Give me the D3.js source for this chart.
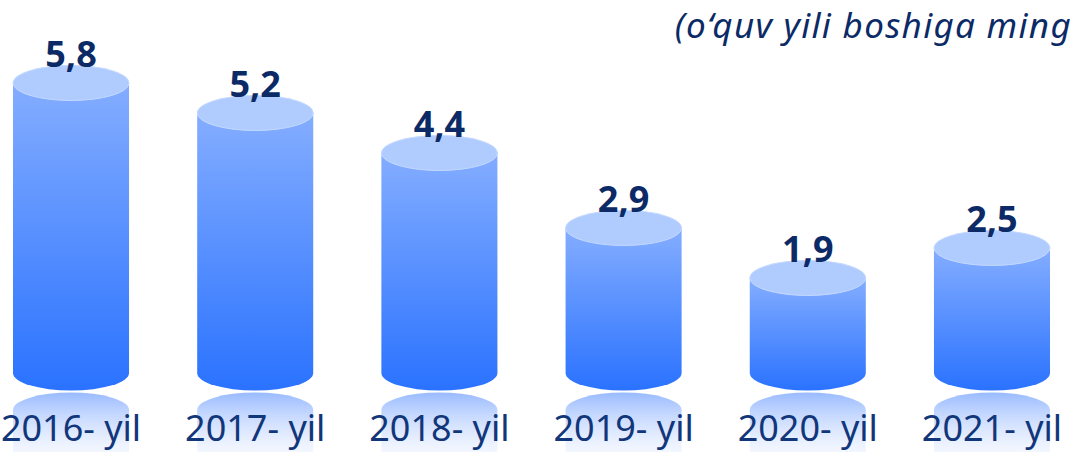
<!DOCTYPE html>
<html>
<head>
<meta charset="utf-8">
<script src="https://cdnjs.cloudflare.com/ajax/libs/d3/7.8.5/d3.min.js"></script>
<style>
  html, body { margin: 0; padding: 0; background: #fff; }
  svg { display: block; }
</style>
</head>
<body>
<svg id="chart" width="1078" height="452"></svg>
<script>
// chart data
var years = ["2016- yil", "2017- yil", "2018- yil", "2019- yil", "2020- yil", "2021- yil"];
var values = [5.8, 5.2, 4.4, 2.9, 1.9, 2.5];
var labels = ["5,8", "5,2", "4,4", "2,9", "1,9", "2,5"];
var unitTitle = "(o\u2018quv yili boshiga ming";

var svg = d3.select("#chart");
var W = +svg.attr("width"), H = +svg.attr("height");

var navy = "#0b2a66";
var baseY = 373;   // centre of the bottom ellipse
var ry = 17.5;

var x = d3.scaleBand()
    .domain(years)
    .range([13, 1050])
    .paddingInner(0.37)
    .paddingOuter(0);

var y = d3.scaleLinear()
    .domain([0, 6])
    .range([baseY, baseY - 300]);

var rx = x.bandwidth() / 2;

// gradients
var defs = svg.append("defs");

var body = defs.append("linearGradient")
    .attr("id", "body-grad")
    .attr("x1", 0).attr("y1", 0).attr("x2", 0).attr("y2", 1);
body.append("stop").attr("offset", "0%").attr("stop-color", "#84adff");
body.append("stop").attr("offset", "100%").attr("stop-color", "#2a72ff");

var refl = defs.append("linearGradient")
    .attr("id", "refl-grad")
    .attr("gradientUnits", "userSpaceOnUse")
    .attr("x1", 0).attr("y1", baseY + ry).attr("x2", 0).attr("y2", H + 6);
refl.append("stop").attr("offset", "0%").attr("stop-color", "#8fb4ff").attr("stop-opacity", 0.95);
refl.append("stop").attr("offset", "100%").attr("stop-color", "#dfe9ff").attr("stop-opacity", 0.25);

var data = years.map(function (d, i) {
    return { year: d, value: values[i], label: labels[i] };
});

/**
 * Outline of a cylinder body: straight sides, bottom half-ellipse.
 */
function cylinderPath(cx, top) {
    return "M" + (cx - rx) + "," + top +
        "L" + (cx - rx) + "," + baseY +
        "A" + rx + "," + ry + " 0 0 0 " + (cx + rx) + "," + baseY +
        "L" + (cx + rx) + "," + top + "Z";
}

/**
 * Mirrored bottom of a cylinder, below the floor line.
 */
function reflectionPath(cx) {
    var top = baseY + ry + 2;
    return "M" + (cx - rx) + "," + (top + ry) +
        "A" + rx + "," + ry + " 0 0 1 " + (cx + rx) + "," + (top + ry) +
        "L" + (cx + rx) + "," + H +
        "L" + (cx - rx) + "," + H + "Z";
}

var bars = svg.append("g").attr("class", "cylinders")
    .selectAll("g")
    .data(data)
    .join("g");

bars.append("path")
    .attr("class", "reflection")
    .attr("d", function (d) { return reflectionPath(x(d.year) + rx); })
    .attr("fill", "url(#refl-grad)");

bars.append("path")
    .attr("class", "body")
    .attr("d", function (d) { return cylinderPath(x(d.year) + rx, y(d.value)); })
    .attr("fill", "url(#body-grad)");

bars.append("ellipse")
    .attr("class", "cap")
    .attr("cx", function (d) { return x(d.year) + rx; })
    .attr("cy", function (d) { return y(d.value); })
    .attr("rx", rx)
    .attr("ry", ry)
    .attr("fill", "#b0ccff")
    .attr("stroke", "#c4d9ff")
    .attr("stroke-width", 1);

// value labels
bars.append("text")
    .attr("x", function (d) { return x(d.year) + rx; })
    .attr("y", function (d) { return y(d.value) - ry + 1; })
    .attr("text-anchor", "middle")
    .attr("font-family", "'Noto Sans', 'Open Sans', sans-serif")
    .attr("font-weight", 700)
    .attr("font-size", 36)
    .attr("fill", navy)
    .text(function (d) { return d.label; });

// category labels
bars.append("text")
    .attr("x", function (d) { return x(d.year) + rx; })
    .attr("y", 441)
    .attr("text-anchor", "middle")
    .attr("font-family", "'Noto Sans', 'Open Sans', sans-serif")
    .attr("font-size", 36)
    .attr("fill", "#12367a")
    .text(function (d) { return d.year; });

// unit title, top right
svg.append("text")
    .attr("x", W - 6)
    .attr("y", 38)
    .attr("text-anchor", "end")
    .attr("font-family", "'Noto Sans', 'Open Sans', sans-serif")
    .attr("font-style", "italic")
    .attr("font-size", 35)
    .attr("letter-spacing", 1.3)
    .attr("fill", navy)
    .text(unitTitle);
</script>
</body>
</html>
